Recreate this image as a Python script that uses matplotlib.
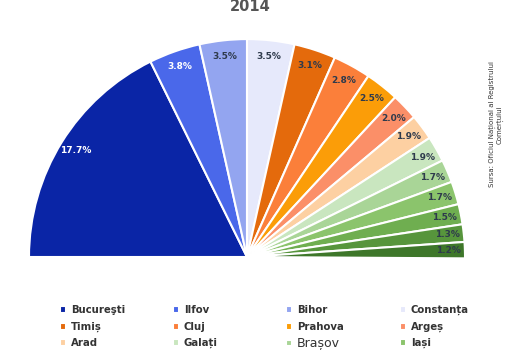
import matplotlib.pyplot as plt

# Top 15 counties, 2014 (share of total, %); the rest of the circle is hidden
counties = ['Bucureşti', 'Ilfov', 'Bihor', 'Constanța', 'Timiș', 'Cluj', 'Prahova', 'Argeș',
            'Arad', 'Galați', 'Brașov', 'Iași', 'Maramureș', 'Mureș', 'Sibiu']
shares = [17.7, 3.8, 3.5, 3.5, 3.1, 2.8, 2.5, 2.0, 1.9, 1.9, 1.7, 1.7, 1.5, 1.3, 1.2]
colors = ['#0a25a6', '#4a68ea', '#93a5f0', '#e6e9fb', '#e46a0c', '#fb7f3a', '#fb9d08', '#fb8f68',
          '#fdd0a2', '#c9e6bf', '#a9d597', '#8bc46c', '#6fae50', '#57953c', '#3e772a']
rest = 100 - sum(shares)

fig = plt.figure(figsize=(5.25, 3.5), dpi=100)
# axes covers only the upper half of the pie
ax = fig.add_axes([29/525, 93/350, 436/525, 219/350])

def fmt(p):
    return '' if p > 40 else '%.1f%%' % p

wedges, texts, autotexts = ax.pie(shares + [rest], colors=colors + ['none'], startangle=180,
                                  counterclock=False, autopct=fmt, pctdistance=0.925,
                                  wedgeprops=dict(edgecolor='white', linewidth=1.5),
                                  textprops=dict(fontsize=6.5, fontweight='bold', color='#2e3a4c'))
wedges[-1].set_edgecolor('none')
for t in autotexts[:2]:
    t.set_color('white')
ax.set_xlim(-1, 1)
ax.set_ylim(0, 1.005)
ax.set_aspect('auto')

fig.text(0.476, 1 - 11/350, '2014', ha='center', va='baseline', fontsize=10.5, fontweight='bold', color='#555555')
fig.text(0.945, 0.645, 'Sursa: Oficiul Național al Registrului\nComerțului', rotation=90,
         ha='center', va='center', fontsize=5, color='#333333')

# legend: 4 columns x 3 rows, row by row (first 12 counties only), one entry each
col_x = [60/525, 173/525, 286/525, 400/525]
row_y = [1 - 310/350, 1 - 327/350, 1 - 343/350]
for i in range(12):
    leg = fig.legend([wedges[i]], [counties[i]], loc='center left',
                     bbox_to_anchor=(col_x[i % 4], row_y[i // 4]), frameon=False, fontsize=7.3,
                     handlelength=0.6, handleheight=0.6, handletextpad=0.45,
                     borderaxespad=0, borderpad=0)
    t = leg.get_texts()[0]
    t.set_color('#333333')
    t.set_fontweight('bold')
    if counties[i] == 'Brașov':
        t.set_fontweight('normal')
        t.set_fontsize(9)

fig.savefig('out.png', dpi=100)
